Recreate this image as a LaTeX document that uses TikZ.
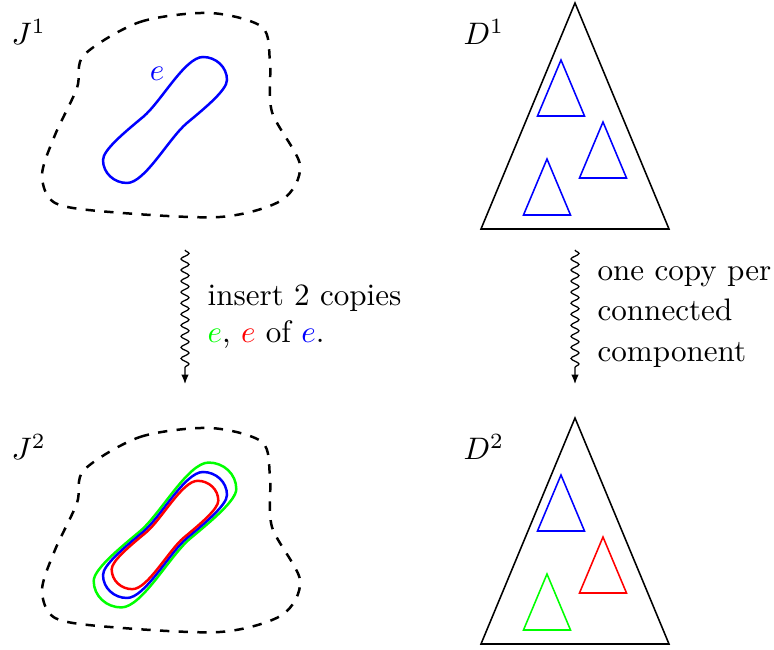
\documentclass[tikz,border=0pt]{standalone}
\usepackage{tikz}
\usetikzlibrary{decorations.pathmorphing,arrows.meta}
\newcommand\Drop{415}
\newcommand\Px{0.0113cm}
\tikzset{
  region/.style={
    dashed,
    thick
  },
  cell/.style={
    thick
  },
  part/.style={
    line width=0.5pt
  },
  squiggle/.style={
    decorate,
    decoration={snake,amplitude=.45mm,segment length=1.25mm,post length=1.5mm},
    -{Latex[length=3pt,width=2.4pt]}
  },
  sym/.style={
    anchor=base west,
    inner sep=0pt
  },
  note/.style={
    anchor=north west,
    align=left,
    inner sep=0pt
  },
}
\tikzset{
  blob/.pic={
    \draw[region] plot[smooth cycle] coordinates {(84,55) (140,22) (210,13) (262,27) (270,62) (272,112) (300,165) (282,200) (220,217) (110,212) (55,203) (42,175) (55,135) (77,88)};
  },
  edgeloop/.pic={
    \draw[cell,pic actions] (38,-63) .. controls (51,-63) and (62,-53) .. (62,-40)
      .. controls (62,-30) and (40,-12) .. (22,3)
      .. controls (4,18) and (-20,63) .. (-38,63)
      .. controls (-51,63) and (-62,53) .. (-62,40)
      .. controls (-62,30) and (-40,12) .. (-22,-3)
      .. controls (-4,-18) and (20,-63) .. (38,-63) -- cycle;
  },
  tri/.pic={
    \draw[part,pic actions] (0,0) -- (-23.5,56) -- (23.5,56) -- cycle;
  },
}

\begin{document}
\begin{tikzpicture}[x=\Px,y=-\Px]
    \useasboundingbox (0,0) rectangle (774,650);

    % J^1 with the edge e
    \node[sym] (J1) at (11,45) {$J^1$};
    \pic at (0,0) {blob};
    \pic[blue] at (165,120) {edgeloop};
    \node[anchor=base,inner sep=0pt,text=blue] (e1) at (157,81) {$e$};

    % D^1
    \node[sym] (D1) at (463,45) {$D^1$};
    \draw[part] (575,3) -- (481,229) -- (669,229) -- cycle;
    \pic[blue] at (561,60) {tri};
    \pic[blue] at (603,122) {tri};
    \pic[blue] at (547,159) {tri};

    % the two steps
    \coordinate (aL1) at (185,250);
    \coordinate (aL2) at (185,384);
    \draw[squiggle] (aL1) -- (aL2);
    \node[note] (noteL) at (207,284) {insert 2 copies\\ $\color{green}e$, $\color{red}e$ of $\color{blue}e$.};

    \coordinate (aR1) at (575,250);
    \coordinate (aR2) at (575,384);
    \draw[squiggle] (aR1) -- (aR2);
    \node[note] (noteR) at (597,266) {one copy per\\[1pt] connected\\[1pt] component};

    % J^2 with the copies
    \node[sym] (J2) at (11,45+\Drop) {$J^2$};
    \pic at (0,\Drop) {blob};
    \pic[green,scale=1.15] at (165,120+\Drop) {edgeloop};
    \pic[blue] at (165,120+\Drop) {edgeloop};
    \pic[red,scale=0.86] at (165,120+\Drop) {edgeloop};

    % D^2
    \node[sym] (D2) at (463,45+\Drop) {$D^2$};
    \draw[part] (575,3+\Drop) -- (481,229+\Drop) -- (669,229+\Drop) -- cycle;
    \pic[blue] at (561,60+\Drop) {tri};
    \pic[red] at (603,122+\Drop) {tri};
    \pic[green] at (547,159+\Drop) {tri};
\end{tikzpicture}
\end{document}
